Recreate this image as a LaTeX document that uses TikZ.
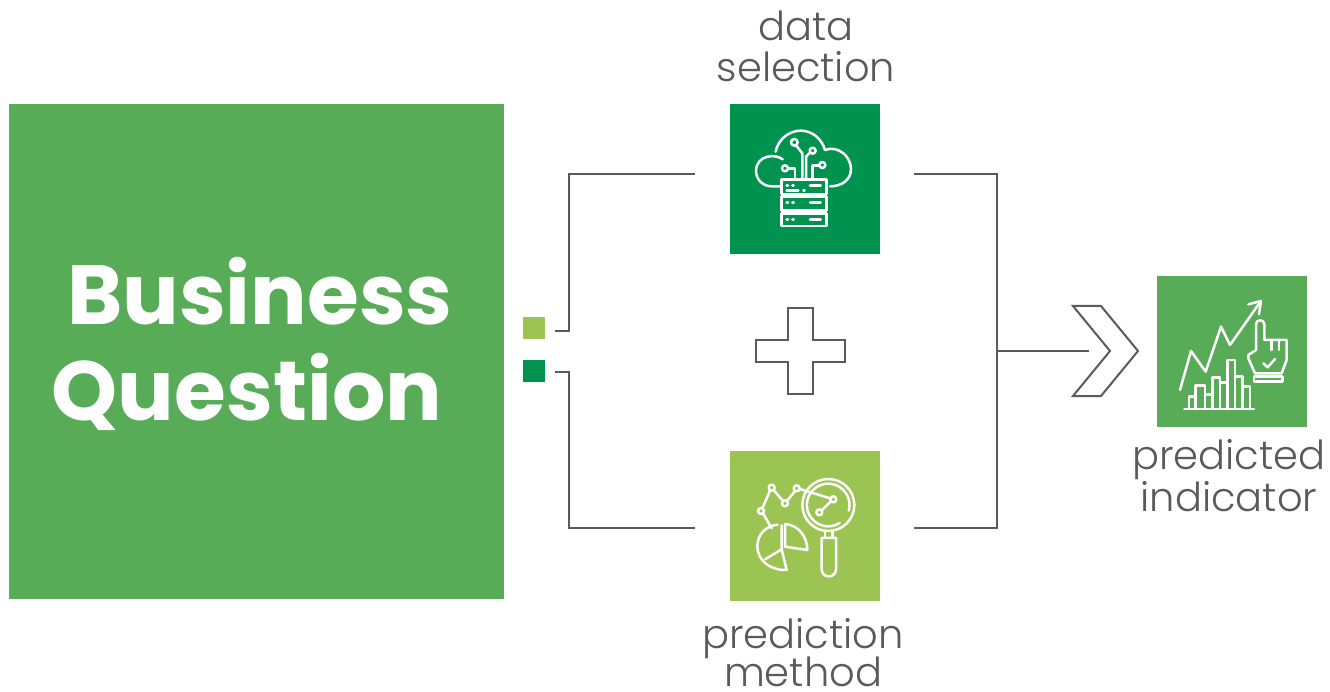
\documentclass[tikz,border=0pt]{standalone}
\usepackage{fontspec}
\setmainfont{Poppins}
\newfontfamily\lightfont{Poppins Light}
\definecolor{midgreen}{HTML}{58AB57}
\definecolor{darkgreen}{HTML}{00934F}
\definecolor{lightgreen}{HTML}{9BC453}
\definecolor{linegray}{HTML}{5A5A5A}
\tikzset{
    tile/.style={minimum size=150pt,inner sep=0pt,outer sep=0pt},
    marker/.style={minimum size=22pt,inner sep=0pt,outer sep=0pt},
    caption/.style={text=linegray,font=\lightfont\fontsize{40}{40}\selectfont,inner sep=0pt},
    headline/.style={text=white,font=\bfseries\fontsize{84}{84}\selectfont,inner sep=0pt},
    wire/.style={draw=linegray,line width=2pt,line join=miter},
    glyph/.style={draw=white,line width=2.5pt,line join=round,line cap=round},
}
\begin{document}
\begin{tikzpicture}[x=1pt,y=-1pt]
    \useasboundingbox (0,0) rectangle (1330,692);
    \node[fill=midgreen,minimum size=495pt,inner sep=0pt] (question) at (256.5,351.5) {};
    \node[headline] (business) at (260,291) {Business};
    \node[headline] (questionword) at (247,392) {Question};

    \node[marker,fill=lightgreen] (markerlight) at (534,328.5) {};
    \node[marker,fill=darkgreen] (markerdark) at (534,371) {};

    \node[tile,fill=darkgreen] (selection) at (805,179) {};
    \node[tile,fill=lightgreen] (method) at (805,526) {};
    \node[tile,fill=midgreen] (indicator) at (1232,351.5) {};

    \node[caption] (selectionone) at (806,26) {data};
    \node[caption] (selectiontwo) at (806,67) {selection};
    \node[caption] (methodone) at (803,639) {prediction};
    \node[caption] (methodtwo) at (803,672) {method};
    \node[caption] (indicatorone) at (1229,460) {predicted};
    \node[caption] (indicatortwo) at (1229,497) {indicator};

    % connector ends
    \coordinate (topstub) at (555,331);
    \coordinate (bottomstub) at (555,372);
    \coordinate (selectionin) at (695,174);
    \coordinate (methodin) at (695,528);
    \coordinate (selectionout) at (914,174);
    \coordinate (methodout) at (914,528);
    \coordinate (hub) at (997,351);
    \coordinate (hubend) at (1089,351);

    \draw[wire] (topstub) -- (569,331) |- (selectionin);
    \draw[wire] (bottomstub) -- (569,372) |- (methodin);
    \draw[wire] (selectionout) -| (hub) |- (methodout);
    \draw[wire] (hub) -- (hubend);

    % plus and chevron
    \draw[wire] (788,308) -- (813,308) -- (813,340) -- (845,340) -- (845,362) -- (813,362) -- (813,394) -- (788,394) -- (788,362) -- (756,362) -- (756,340) -- (788,340) -- cycle;
    \draw[wire] (1073,306) -- (1101,306) -- (1138,351) -- (1101,396) -- (1073,396) -- (1110,351) -- cycle;

    % cloud icon
    \begin{scope}[shift={(730,100)},x=0.3333pt,y=-0.3333pt]
        \draw[glyph] (158,178) .. controls (135,160) and (80,165) .. (78,212) .. controls (78,240) and (100,260) .. (128,259) -- (150,259);
        \draw[glyph] (137,155) .. controls (145,115) and (180,92) .. (212,92) .. controls (245,92) and (275,115) .. (285,150);
        \draw[glyph] (285,150) .. controls (325,135) and (363,170) .. (363,207) .. controls (363,240) and (335,259) .. (300,259);
        \draw[glyph] (155,238) rectangle (290,282);
        \draw[glyph] (155,290) rectangle (290,332);
        \draw[glyph] (155,340) rectangle (290,378);
        \draw[glyph] (193,127) circle (10);
        \draw[glyph] (248,152) circle (9);
        \draw[glyph] (277,195) circle (9);
        \draw[glyph] (165,205) circle (9);
        \draw[glyph] (198,136) -- (217,160) -- (217,235);
        \draw[glyph] (240,158) -- (228,170) -- (228,235);
        \draw[glyph] (268,197) -- (248,197) -- (248,235);
        \draw[glyph] (174,205) -- (195,205) -- (195,235);
        \foreach \rowy in {256,308,358} {
            \draw[glyph] (170,\rowy) -- (174,\rowy);
            \draw[glyph] (187,\rowy) -- (191,\rowy);
            \draw[glyph] (240,\rowy) -- (272,\rowy);
        }
        \draw[glyph] (170,272) -- (205,272);
        \draw[glyph] (220,272) -- (224,272);
        \draw[glyph] (170,342) -- (205,342);
        \draw[glyph] (220,342) -- (224,342);
    \end{scope}

    % magnifier icon
    \begin{scope}[shift={(730,450)},x=0.3333pt,y=-0.3333pt]
        \draw[glyph] (295,165) circle (78);
        \draw[glyph] (329,219) arc (57.5:375:64);
        \foreach \dotx/\doty in {93/183,125/113,165/160,200/115,310/148,268/187}
            \draw[glyph] (\dotx,\doty) circle (9);
        \draw[glyph] (97,175) -- (120,122);
        \draw[glyph] (131,120) -- (159,153);
        \draw[glyph] (171,153) -- (195,123);
        \draw[glyph] (209,117) -- (300,145);
        \draw[glyph] (275,181) -- (303,154);
        \draw[glyph] (99,190) -- (125,235);
        \draw[glyph] (285,243) -- (285,262);
        \draw[glyph] (308,243) -- (308,262);
        \draw[glyph] (275,264) -- (318,264) -- (318,358) arc (0:180:21.5) -- cycle;
        \draw[glyph] (143,224) .. controls (105,228) and (82,255) .. (82,290) .. controls (82,330) and (120,362) .. (170,360) -- (155,298) -- (155,226);
        \draw[glyph] (155,298) -- (105,328);
        \draw[glyph] (165,222) .. controls (205,225) and (232,260) .. (232,300) -- (165,290) -- cycle;
    \end{scope}

    % chart icon
    \begin{scope}[shift={(1155,275)},x=0.3333pt,y=-0.3333pt]
        \draw[glyph] (75,345) -- (108,228) -- (152,290) -- (198,155) -- (225,210) -- (315,82);
        \draw[glyph] (280,88) -- (318,78) -- (312,118);
        \draw[glyph] (303,225) -- (303,148) arc (180:360:12.5) -- (328,195) -- (395,195) -- (395,255) -- (380,295) -- (300,295) -- (280,250) -- (280,240) -- cycle;
        \draw[glyph] (297,305) rectangle (383,320);
        \draw[glyph] (325,265) -- (338,277) -- (360,252);
        \draw[glyph] (350,197) -- (350,225);
        \draw[glyph] (372,197) -- (372,225);
        \draw[glyph] (88,402) -- (297,402);
        \draw[glyph] (102,402) -- (102,365) -- (122,365) -- (122,402);
        \draw[glyph] (122,365) -- (122,332) -- (150,332) -- (150,402);
        \draw[glyph] (150,358) -- (172,358) -- (172,402);
        \draw[glyph] (172,358) -- (172,308) -- (195,308) -- (195,402);
        \draw[glyph] (195,322) -- (217,322) -- (217,402);
        \draw[glyph] (217,322) -- (217,255) -- (240,255) -- (240,402);
        \draw[glyph] (240,305) -- (262,305) -- (262,402);
        \draw[glyph] (262,335) -- (285,335) -- (285,402);
    \end{scope}
\end{tikzpicture}
\end{document}
